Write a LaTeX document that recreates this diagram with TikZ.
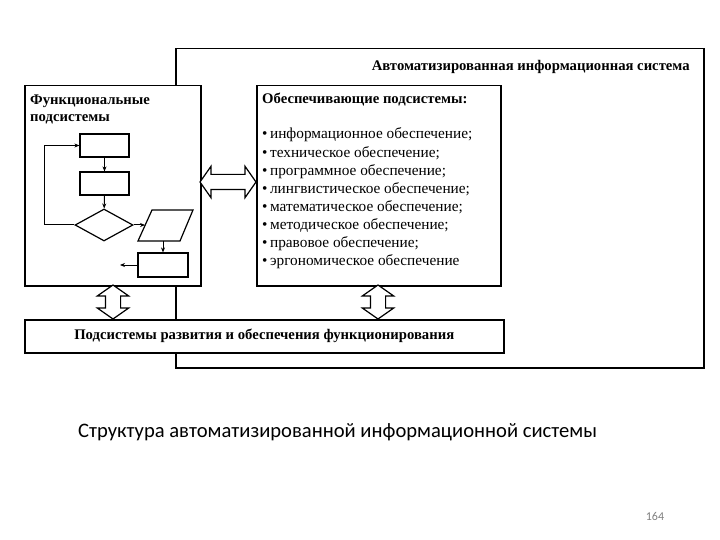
\documentclass[tikz,border=0pt]{standalone}
\usepackage{fontspec}
\setmainfont{Liberation Serif}
\newfontfamily\slidefont{Carlito}
\usetikzlibrary{shapes.geometric, shapes.arrows, arrows.meta, positioning}

\begin{document}
\begin{tikzpicture}[
    x=1pt, y=-1pt,
    panel/.style={rectangle, draw, line width=1.5pt, fill=white, anchor=north west, inner sep=0pt},
    fblock/.style={rectangle, draw, line width=1.2pt, minimum width=49pt, minimum height=23pt, inner sep=0pt},
    fatarrow/.style={double arrow, draw, line width=1.2pt, fill=white, inner sep=7pt, minimum width=0pt,
        double arrow head extend=8pt, double arrow tip angle=110},
    line/.style={draw, -{Stealth[length=5pt, width=4pt]}, line width=1pt},
    head/.style={font=\bfseries\fontsize{14.7}{17.5}\selectfont, inner sep=0pt},
    item/.style={anchor=west, font=\fontsize{15.3}{16}\selectfont, inner sep=0pt},
]
\useasboundingbox (0,0) rectangle (720,540);

% outer system frame
\node [panel, minimum width=528pt, minimum height=319pt] (ais) at (175,48) {};
\node [head, anchor=east] (aistitle) at (690,67) {Автоматизированная информационная система};

% main blocks
\node [panel, minimum width=176pt, minimum height=200pt] (func) at (24,85) {};
\node [panel, minimum width=244pt, minimum height=200pt] (supp) at (256,85) {};
\node [panel, minimum width=479pt, minimum height=33pt] (devel) at (24,319) {};

\node [head, anchor=north west, align=left] (functitle) at (30,94.5) {Функциональные\\подсистемы};
\node [head, anchor=west] (supptitle) at (262,100) {Обеспечивающие подсистемы:};
\foreach \txt [count=\i from 0] in {информационное обеспечение;, техническое обеспечение;,
    программное обеспечение;, лингвистическое обеспечение;, математическое обеспечение;,
    методическое обеспечение;, правовое обеспечение;, эргономическое обеспечение}
    \node [item] (item\i) at (262,135+18.1*\i) {•\,\txt};
\node [head] (develtitle) at (devel.center) {Подсистемы развития и обеспечения функционирования};

% links between blocks
\node [fatarrow, minimum height=56pt] (link1) at (228,182) {};
\node [fatarrow, minimum height=34pt, shape border rotate=90] (link2) at (113,302) {};
\node [fatarrow, minimum height=34pt, shape border rotate=90] (link3) at (378,302) {};

% flowchart inside functional block
\node [fblock] (b1) at (104.5,145.5) {};
\node [fblock] (b2) at (104.5,183.5) {};
\node [diamond, draw, line width=1.2pt, minimum width=58pt, minimum height=32pt, inner sep=0pt] (dec) at (104,225) {};
\coordinate (io-sw) at (138,241);
\coordinate (io-se) at (180,241);
\coordinate (io-ne) at (193,210);
\coordinate (io-nw) at (152,210);
\coordinate (io-w) at (145,225);
\coordinate (io-s) at (163,241);
\draw [line width=1.2pt] (io-sw) -- (io-se) -- (io-ne) -- (io-nw) -- cycle;
\node [fblock, minimum width=50pt, minimum height=24pt] (b3) at (163,265) {};
\coordinate (loopx) at (44,0);
\coordinate (exit) at (120,265);

\path [line] (b1) -- (b2);
\path [line] (b2) -- (dec);
\path [line] (dec.east) -- (io-w);
\path [line] (io-s) -- (b3.north);
\path [line] (b3.west) -- (exit);
\path [line] (dec.west) -- (dec.west -| loopx) |- (b1.west);

% slide caption
\node [anchor=west, inner sep=0pt, font=\slidefont\fontsize{20.6}{24}\selectfont] (caption) at (78,432) {Структура автоматизированной информационной системы};
\node [anchor=center, inner sep=0pt, text=gray, font=\slidefont\fontsize{12}{14}\selectfont] (pageno) at (655,516) {164};
\end{tikzpicture}
\end{document}
